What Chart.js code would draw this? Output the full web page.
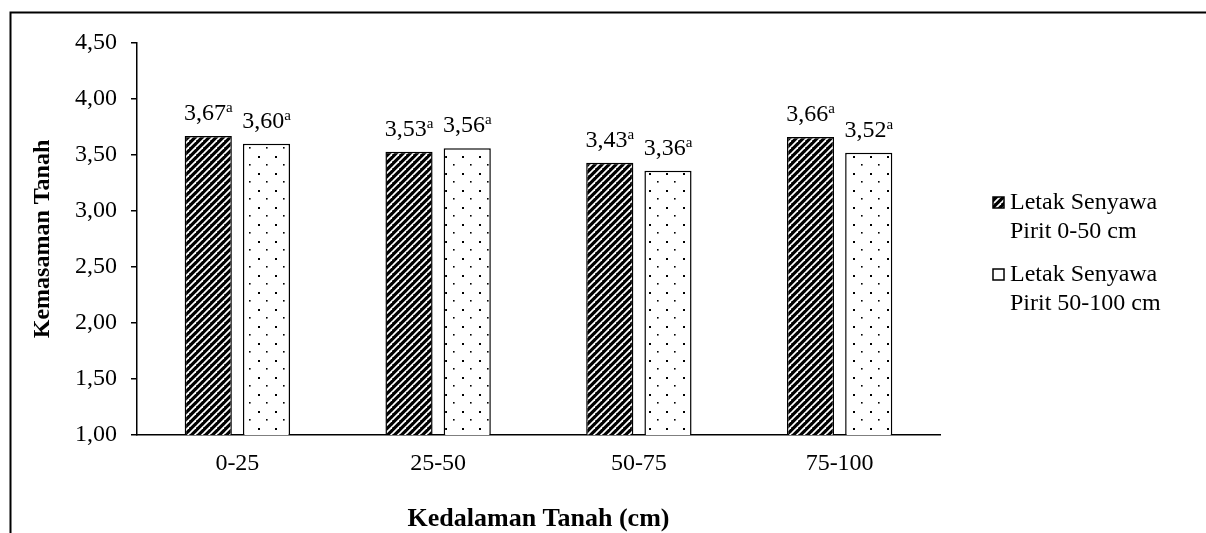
<!DOCTYPE html>
<html>
<head>
<meta charset="utf-8">
<script src="https://cdn.jsdelivr.net/npm/chart.js@4/dist/chart.umd.min.js"></script>
<style>
  body { margin: 0; background: #fff; }
  #wrap { position: relative; width: 1206px; height: 533px; }
</style>
</head>
<body>
<div id="wrap"><canvas id="myChart" width="1206" height="533"></canvas></div>
<script>
// data
const categories = ["0-25", "25-50", "50-75", "75-100"];
const pirit0_50 = [3.67, 3.53, 3.43, 3.66];
const pirit50_100 = [3.60, 3.56, 3.36, 3.52];
const letters0_50 = ["a", "a", "a", "a"];
const letters50_100 = ["a", "a", "a", "a"];
const legendLines = [["Letak Senyawa", "Pirit 0-50 cm"], ["Letak Senyawa", "Pirit 50-100 cm"]];
const yTitle = "Kemasaman Tanah";
const xTitle = "Kedalaman Tanah (cm)";

const serif = "'Liberation Serif', 'Times New Roman', serif";

//patterns
function stripePattern() {
    const c = document.createElement("canvas");
    c.width = 7; c.height = 7;
    const g = c.getContext("2d");
    g.fillStyle = "#000";
    g.fillRect(0, 0, 7, 7);
    g.strokeStyle = "#fff";
    g.lineWidth = 1.8;
    for (let k = -7; k <= 14; k += 7) {
        g.beginPath();
        g.moveTo(k - 7, 7 + 7);
        g.lineTo(k + 7, 7 - 7);
        g.stroke();
    }
    return g.createPattern(c, "repeat");
}

function dotPattern() {
    const c = document.createElement("canvas");
    c.width = 17; c.height = 17;
    const g = c.getContext("2d");
    g.fillStyle = "#fff";
    g.fillRect(0, 0, 17, 17);
    g.fillStyle = "#000";
    g.fillRect(3, 3, 2, 2);
    g.fillRect(11, 11, 1.6, 1.6);
    return g.createPattern(c, "repeat");
}

const stripes = stripePattern();
const dots = dotPattern();

function fmt(v) {
    return v.toFixed(2).replace(".", ",");
}

//labels boven de bars
const valueLabels = {
    id: "valueLabels",
    afterDatasetsDraw(chart) {
        const ctx = chart.ctx;
        const letters = [letters0_50, letters50_100];
        ctx.save();
        ctx.fillStyle = "#000";
        ctx.textBaseline = "alphabetic";
        chart.data.datasets.forEach(function(ds, i) {
            chart.getDatasetMeta(i).data.forEach(function(bar, j) {
                const main = fmt(ds.data[j]);
                const sup = letters[i][j];
                ctx.font = "24px " + serif;
                const w1 = ctx.measureText(main).width;
                ctx.font = "15px " + serif;
                const w2 = ctx.measureText(sup).width;
                const x0 = bar.x - (w1 + w2) / 2;
                const y0 = bar.y - 16;
                ctx.textAlign = "left";
                ctx.font = "24px " + serif;
                ctx.fillText(main, x0, y0);
                ctx.font = "15px " + serif;
                ctx.fillText(sup, x0 + w1, y0 - 8);
            });
        });
        ctx.restore();
    }
};

//legend + rand
const sideLegend = {
    id: "sideLegend",
    afterDraw(chart) {
        const ctx = chart.ctx;
        const fills = [stripes, dots];
        ctx.save();
        ctx.font = "24px " + serif;
        ctx.textAlign = "left";
        ctx.textBaseline = "middle";
        legendLines.forEach(function(lines, i) {
            const top = 203 + i * 72;
            ctx.fillStyle = fills[i];
            ctx.fillRect(993, top - 6, 11, 11);
            ctx.strokeStyle = "#000";
            ctx.lineWidth = 1.5;
            ctx.strokeRect(993, top - 6, 11, 11);
            ctx.fillStyle = "#000";
            lines.forEach(function(line, k) {
                ctx.fillText(line, 1010, top + k * 29);
            });
        });

        ctx.strokeStyle = "#000";
        ctx.lineWidth = 2;
        ctx.beginPath();
        ctx.moveTo(10.5, 533);
        ctx.lineTo(10.5, 12.5);
        ctx.lineTo(1206, 12.5);
        ctx.stroke();
        ctx.restore();
    }
};

const ctx = document.getElementById("myChart");

let data = {
    labels: categories,
    datasets: [{
        label: legendLines[0].join(" "),
        data: pirit0_50,
        backgroundColor: stripes,
        borderColor: "#000",
        borderWidth: 1.5,
        borderSkipped: false
    }, {
        label: legendLines[1].join(" "),
        data: pirit50_100,
        backgroundColor: dots,
        borderColor: "#000",
        borderWidth: 1.5,
        borderSkipped: false
    }]
};

let config = {
    type: "bar",
    data: data,
    options: {
        responsive: false,
        animation: false,
        categoryPercentage: 0.58,
        barPercentage: 0.81,
        layout: { padding: { left: 0, top: 43, right: 266, bottom: 0 } },
        plugins: {
            legend: { display: false },
            tooltip: { enabled: false }
        },
        scales: {
            x: {
                afterFit: function(scale) { scale.height = 98; },
                grid: { display: false, drawTicks: false },
                border: { display: true, color: "#000", width: 1.5 },
                ticks: { color: "#000", padding: 14, font: { family: serif, size: 24 } },
                title: {
                    display: true,
                    text: xTitle,
                    color: "#000",
                    padding: { top: 0, bottom: -2 },
                    font: { family: serif, size: 26, weight: "bold" }
                }
            },
            y: {
                min: 1,
                max: 4.5,
                afterFit: function(scale) { scale.width = 137; },
                grid: { drawOnChartArea: false, drawTicks: true, tickLength: 6, color: "#000", lineWidth: 1.5 },
                border: { display: true, color: "#000", width: 1.5 },
                ticks: {
                    stepSize: 0.5,
                    color: "#000",
                    padding: 14,
                    font: { family: serif, size: 24 },
                    callback: function(v) { return fmt(v); }
                },
                title: {
                    display: true,
                    text: yTitle,
                    color: "#000",
                    padding: { top: 28, bottom: 0 },
                    font: { family: serif, size: 24, weight: "bold" }
                }
            }
        }
    },
    plugins: [valueLabels, sideLegend]
};

let myChart = new Chart(ctx, config);
</script>
</body>
</html>
